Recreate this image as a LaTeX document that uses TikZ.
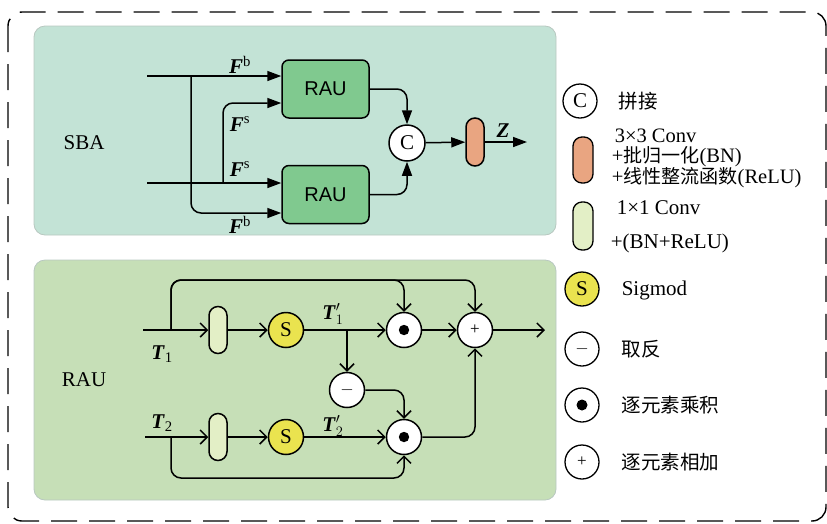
\documentclass[tikz,border=0pt]{standalone}
\usepackage{fontspec}
\setmainfont{Liberation Serif}
\newfontfamily\cjk[Scale=0.93]{Noto Sans CJK SC}
\newfontfamily\arialf{Liberation Sans}
\usetikzlibrary{arrows.meta,calc}
\definecolor{sbabg}{HTML}{C3E3D6}
\definecolor{raubg}{HTML}{C6DFB7}
\definecolor{raubox}{HTML}{80C98F}
\definecolor{orangeb}{HTML}{E9A581}
\definecolor{lightb}{HTML}{E3EFC6}
\definecolor{yel}{HTML}{EAE34F}
\definecolor{panelline}{HTML}{B8C8C0}
\begin{document}
\begin{tikzpicture}[x=1pt,y=-1pt,
  font=\fontsize{21}{24}\selectfont, line width=1.5pt,
  sarr/.style={-{Triangle[length=14pt,width=10pt]}},
  oarr/.style={-{Straight Barb[length=7pt,width=14pt]}},
  panel/.style={draw=panelline, line width=0.8pt, rounded corners=11},
  raubx/.style={draw, fill=raubox, rounded corners=7, minimum width=87pt, minimum height=58pt, inner sep=0pt, font=\arialf\fontsize{20}{22}\selectfont},
  bar/.style={draw, rounded corners=9pt, minimum width=18pt, minimum height=47pt, inner sep=0pt},
  opc/.style={draw, circle, fill=white, minimum size=35pt, inner sep=0pt},
  lgc/.style={draw, circle, fill=white, minimum size=34pt, inner sep=0pt, line width=1.3pt},
  lbl/.style={anchor=west, inner sep=0pt},
  elbow/.style={rounded corners=10pt}]
\useasboundingbox (0,0) rectangle (827,523);
% outer frame
\draw[dash pattern=on 26pt off 12pt, rounded corners=14pt, line width=1.4pt] (8,12) rectangle (826,521);
% panels
\draw[panel, fill=sbabg] (34,26) rectangle (556,235);
\draw[panel, fill=raubg] (34,260) rectangle (556,500);
\node (sba) at (84,143) {SBA};
\node (raul) at (84,380) {RAU};

% ---------------- SBA ----------------
\node[raubx] (rau1) at (325.5,89) {RAU};
\node[raubx] (rau2) at (325.5,194.5) {RAU};
\node[opc, minimum size=36pt] (cc) at (407,143) {C};
\node[bar, fill=orangeb, minimum height=48pt] (ob) at (475,142) {};
\coordinate (in1) at (147,76);
\coordinate (in2) at (147,183);
\coordinate (jb) at (191,76);
\coordinate (js) at (223,183);
\coordinate (zend) at (527,142);
\draw[sarr] (in1) -- (rau1.west |- in1);
\draw[sarr, elbow] (jb) |- ($(rau2.west)+(0,18.5)$);
\draw[sarr] (in2) -- (rau2.west |- in2);
\draw[sarr, elbow] (js) |- ($(rau1.west)+(0,14)$);
\draw[sarr, elbow] (rau1.east) -| (cc.north);
\draw[sarr, elbow] (rau2.east) -| (cc.south);
\draw[sarr] (cc) -- (ob);
\draw[sarr] (ob) -- (zend);
\node (fb1) at (240,65) {\textbf{\textit{F}}\textsuperscript{b}};
\node (fs1) at (240,124) {\textbf{\textit{F}}\textsuperscript{s}};
\node (fs2) at (240,169) {\textbf{\textit{F}}\textsuperscript{s}};
\node (fb2) at (240,225) {\textbf{\textit{F}}\textsuperscript{b}};
\node (zl) at (503,131) {\textbf{\textit{Z}}};

% ---------------- RAU ----------------
\coordinate (t1in) at (143,330);
\coordinate (t2in) at (145,437);
\coordinate (j1) at (171,330);
\coordinate (j2) at (171,437);
\coordinate (outend) at (545,330);
\node[bar, fill=lightb] (b1) at (218,330) {};
\node[bar, fill=lightb] (b2) at (218,437) {};
\node[opc, fill=yel] (s1) at (286,330) {S};
\node[opc, fill=yel] (s2) at (286,437) {S};
\node[opc] (d1) at (404,330) {};
\node[opc] (d2) at (404,437) {};
\node[opc] (mi) at (347,390) {\fontsize{18}{20}\selectfont $-$};
\node[opc] (pl) at (475,330) {\fontsize{17}{20}\selectfont +};
\fill (d1) circle (5.2pt);
\fill (d2) circle (5.2pt);
\coordinate (br) at (mi |- s1);
\draw[oarr] (t1in) -- (b1);
\draw[oarr] (b1) -- (s1);
\draw[oarr] (s1) -- (d1);
\draw[oarr] (br) -- (mi);
\draw[oarr] (d1) -- (pl);
\draw[oarr] (pl) -- (outend);
\draw[oarr, elbow] (j1) -- (j1 |- 0,280) -| (d1.north);
\draw[oarr, elbow] (j1) -- (j1 |- 0,280) -| (pl.north);
\draw[oarr] (t2in) -- (b2);
\draw[oarr] (b2) -- (s2);
\draw[oarr] (s2) -- (d2);
\draw[oarr, elbow] (j2) -- (j2 |- 0,478) -| (d2.south);
\draw[oarr, elbow] (mi.east) -| (d2.north);
\draw[oarr, elbow] (d2.east) -| (pl.south);
\node (t1l) at (162,354) {\textbf{\textit{T}}\textsubscript{1}};
\node (t2l) at (162,423) {\textbf{\textit{T}}\textsubscript{2}};
\node (t1p) at (333,314) {\textbf{\textit{T}}$'_{1}$};
\node (t2p) at (333,426) {\textbf{\textit{T}}$'_{2}$};

% ---------------- Legend ----------------
\node[lgc] (lc) at (580,101) {C};
\node[lbl] (lct) at (618,101) {\cjk 拼接};
\node[bar, fill=orangeb, minimum width=20pt, minimum height=46pt, line width=1.3pt] (lo) at (583,160) {};
\node[lbl, align=left, font=\fontsize{20.5}{20.5}\selectfont] (lo1) at (611,158)
  {\hspace*{3pt}3×3 Conv\\+{\cjk 批归一化}(BN)\\+{\cjk 线性整流函数}(ReLU)};
\node[bar, fill=lightb, minimum width=20pt, minimum height=48pt, line width=1.3pt] (lg) at (583,226) {};
\node[lbl] (lg1) at (616,208) {1×1 Conv};
\node[lbl] (lg2) at (610,243) {+(BN+ReLU)};
\node[lgc, fill=yel] (ls) at (582,289) {S};
\node[lbl] (lst) at (621,290) {Sigmod};
\node[lgc] (lm) at (582,349) {\fontsize{18}{20}\selectfont $-$};
\node[lbl] (lmt) at (621,349) {\cjk 取反};
\node[lgc] (ld) at (582,405) {};
\fill (ld) circle (5.5pt);
\node[lbl] (ldt) at (621,405) {\cjk 逐元素乘积};
\node[lgc] (lp) at (582,462) {\fontsize{17}{20}\selectfont +};
\node[lbl] (lpt) at (621,462) {\cjk 逐元素相加};
\end{tikzpicture}
\end{document}
